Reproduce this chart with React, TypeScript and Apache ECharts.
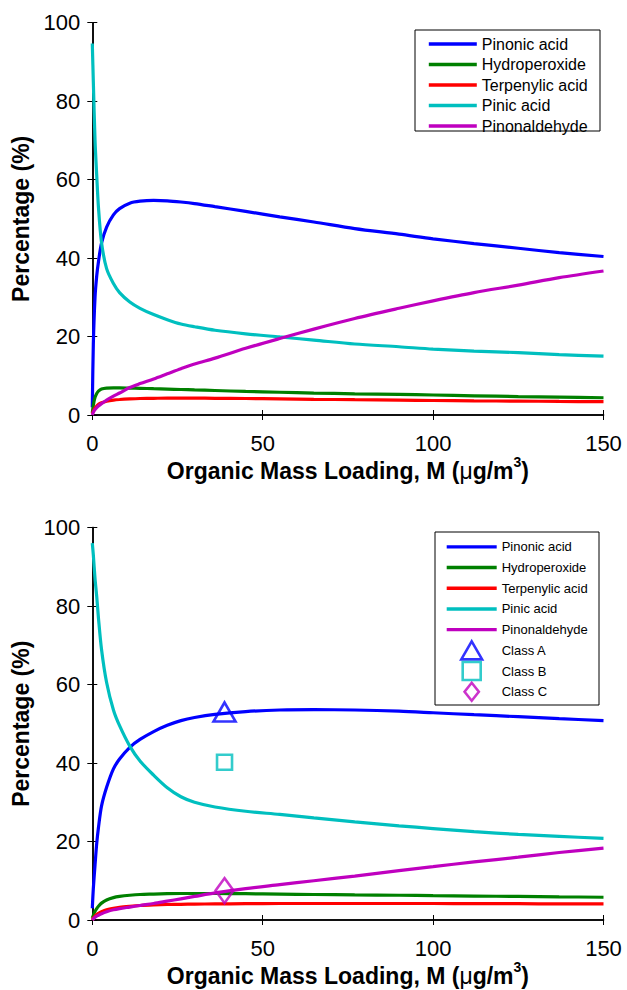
import React, { useEffect, useRef } from "react";
import * as echarts from "echarts";

// ---------- data ----------
const xPts = [0, 0.3, 0.8, 1.3, 1.8, 2.7, 4.2, 6.2, 8, 11, 14, 18, 22, 26, 30, 36, 45, 55, 65, 77, 90, 100, 112, 125, 137, 150];

// Top panel
const pinonicTop = [2, 18, 30, 35.5, 39, 43.8, 47.9, 51, 52.6, 54, 54.5, 54.7, 54.6, 54.3, 53.9, 53.1, 51.9, 50.5, 49.2, 47.5, 46.1, 44.9, 43.7, 42.5, 41.4, 40.4];
const hydroTop = [0.5, 2.5, 4.5, 5.5, 6.1, 6.6, 6.85, 6.9, 6.9, 6.85, 6.8, 6.7, 6.6, 6.5, 6.4, 6.25, 6.0, 5.8, 5.6, 5.4, 5.25, 5.1, 4.9, 4.7, 4.55, 4.4];
const terpTop = [0.3, 1, 1.8, 2.3, 2.7, 3.1, 3.5, 3.8, 3.95, 4.1, 4.2, 4.25, 4.3, 4.3, 4.3, 4.25, 4.2, 4.1, 4.0, 3.9, 3.8, 3.7, 3.6, 3.55, 3.45, 3.4];
const pinicTop = [94.7, 85, 70, 61, 53, 44, 37.3, 33.5, 31.2, 28.8, 27.2, 25.6, 24.3, 23.2, 22.5, 21.6, 20.7, 19.9, 19.1, 18.1, 17.4, 16.8, 16.3, 15.9, 15.4, 15.0];
const pinonaldTop = [0, 0.7, 1.4, 1.9, 2.3, 2.9, 3.8, 4.8, 5.6, 7.0, 8.0, 9.2, 10.5, 11.8, 13.0, 14.5, 17.0, 19.5, 21.9, 24.6, 27.2, 29.1, 31.2, 33.1, 35.0, 36.7];

// Bottom panel
const pinonicBot = [3, 8, 14, 19.5, 23.5, 29.0, 33.8, 38.5, 41.0, 44.0, 46.0, 48.0, 49.6, 50.8, 51.6, 52.4, 53.1, 53.5, 53.6, 53.5, 53.2, 52.8, 52.3, 51.8, 51.3, 50.8];
const hydroBot = [0.5, 1.2, 2.2, 2.9, 3.5, 4.3, 5.1, 5.7, 6.0, 6.3, 6.5, 6.6, 6.7, 6.75, 6.75, 6.75, 6.7, 6.6, 6.5, 6.4, 6.3, 6.2, 6.1, 6.0, 5.9, 5.8];
const terpBot = [0, 0.5, 1.0, 1.4, 1.7, 2.1, 2.6, 3.0, 3.25, 3.5, 3.7, 3.85, 3.95, 4.0, 4.05, 4.1, 4.15, 4.2, 4.2, 4.2, 4.2, 4.2, 4.15, 4.15, 4.1, 4.1];
const pinicBot = [96, 93, 87, 82.4, 77, 69, 60.5, 53.5, 49.5, 44.3, 40.5, 36.9, 33.7, 31.4, 30.0, 28.8, 27.7, 26.9, 26.0, 25.0, 24.0, 23.3, 22.5, 21.8, 21.3, 20.8];
const pinonaldBot = [0, 0.3, 0.7, 1.0, 1.2, 1.6, 2.1, 2.6, 2.9, 3.3, 3.7, 4.2, 4.8, 5.4, 6.0, 6.9, 8.0, 9.0, 10.0, 11.2, 12.6, 13.6, 14.8, 16.0, 17.2, 18.3];

// Measured classes (bottom panel)
const classA = [38.8, 53];
const classB = [38.8, 40.2];
const classC = [38.8, 7.5];

const lineNames = ["Pinonic acid", "Hydroperoxide", "Terpenylic acid", "Pinic acid", "Pinonaldehyde"];
const classNames = ["Class A", "Class B", "Class C"];
const xTicks = [0, 50, 100, 150];
const yTicks = [0, 20, 40, 60, 80, 100];

// ---------- styles ----------
const COLORS = ["#0000ff", "#008000", "#ff0000", "#00bfbf", "#bf00bf"];
const FONT = "Arial, 'Liberation Sans', Helvetica, sans-serif";

const xTitle = "{b|Organic Mass Loading, M (}{mu|\u03bc}{b|g/m}{sup|3}{b|)}";
const xTitleRich = {
  b: { fontSize: 23, fontWeight: "bold", fontFamily: FONT, color: "#000", verticalAlign: "bottom", lineHeight: 28 },
  mu: { fontSize: 23, fontWeight: "normal", fontFamily: FONT, color: "#000", verticalAlign: "bottom", lineHeight: 28 },
  sup: { fontSize: 14, fontWeight: "bold", fontFamily: FONT, color: "#000", verticalAlign: "top", lineHeight: 28 },
};

function makeAxes(gridIndex: number) {
  const axisLine = { show: true, lineStyle: { color: "#000", width: 1.5 } };
  const axisTick = { show: true, inside: false, length: 5, lineStyle: { color: "#000", width: 1 } };
  const xBase = {
    type: "value",
    gridIndex,
    min: xTicks[0],
    max: xTicks[xTicks.length - 1],
    interval: 50,
    splitLine: { show: false },
    axisLine,
    axisTick,
  };
  const yBase = {
    type: "value",
    gridIndex,
    min: yTicks[0],
    max: yTicks[yTicks.length - 1],
    interval: 20,
    splitLine: { show: false },
    axisLine,
    axisTick,
  };
  const xAxes = [
    {
      ...xBase,
      position: "bottom",
      axisLabel: { show: true, fontSize: 22, fontFamily: FONT, color: "#000", margin: 17, lineHeight: 22 },
      name: xTitle,
      nameLocation: "middle",
      nameGap: 39,
      nameTextStyle: { rich: xTitleRich },
    },
    { ...xBase, position: "top", axisLabel: { show: false } },
  ];
  const yAxes = [
    {
      ...yBase,
      position: "left",
      axisLabel: { show: true, fontSize: 22, fontFamily: FONT, color: "#000", margin: 12 },
      name: "Percentage (%)",
      nameLocation: "middle",
      nameGap: 58,
      nameTextStyle: { fontSize: 23, fontWeight: "bold", fontFamily: FONT, color: "#000" },
    },
    { ...yBase, position: "right", axisLabel: { show: false } },
  ];
  return { xAxes, yAxes };
}

function lineSeries(name: string, ys: number[], color: string, axisIdx: number) {
  return {
    type: "line",
    name,
    xAxisIndex: axisIdx,
    yAxisIndex: axisIdx,
    data: xPts.map((x, i) => [x, ys[i]]),
    showSymbol: false,
    symbol: "none",
    smooth: 0.3,
    lineStyle: { color, width: 3.2 },
    itemStyle: { color },
    z: 2,
  };
}

function markerSeries(name: string, point: number[], symbol: string, size: any, color: string) {
  return {
    type: "scatter",
    name,
    xAxisIndex: 2,
    yAxisIndex: 2,
    data: [point],
    symbol,
    symbolSize: size,
    itemStyle: { color: "rgba(255,255,255,0)", borderColor: color, borderWidth: 2.6 },
    z: 5,
  };
}

const classIcons = [
  "path://M11,0 L22,19 L0,19 Z",
  "path://M0,0 L16,0 L16,16 L0,16 Z",
  "path://M9.5,0 L19,12 L9.5,24 L0,12 Z",
];

export default function App() {
  const ref = useRef<HTMLDivElement>(null);

  useEffect(() => {
    if (!ref.current) return;
    const chart = echarts.init(ref.current, undefined, { renderer: "svg" });
    const top = makeAxes(0);
    const bot = makeAxes(1);

    const topVals = [pinonicTop, hydroTop, terpTop, pinicTop, pinonaldTop];
    const botVals = [pinonicBot, hydroBot, terpBot, pinicBot, pinonaldBot];

    const series: any[] = [];
    lineNames.forEach((n, i) => series.push(lineSeries(n, topVals[i], COLORS[i], 0)));
    lineNames.forEach((n, i) => series.push(lineSeries(n, botVals[i], COLORS[i], 2)));
    series.push(markerSeries(classNames[0], classA, "triangle", [22, 19], COLORS[0]));
    series.push(markerSeries(classNames[1], classB, "rect", 15, COLORS[3]));
    series.push(markerSeries(classNames[2], classC, "diamond", [18, 25], COLORS[4]));

    const lineLegendItems = lineNames.map((n) => ({ name: n, itemStyle: { opacity: 0 } }));
    const classLegendItems = classNames.map((n, i) => ({ name: n, icon: classIcons[i] }));

    chart.setOption({
      animation: false,
      backgroundColor: "#fff",
      grid: [
        { left: 92.3, top: 22.7, width: 511.2, height: 392.3, containLabel: false },
        { left: 92.3, top: 527.5, width: 511.2, height: 392.5, containLabel: false },
      ],
      xAxis: [...top.xAxes, ...bot.xAxes],
      yAxis: [...top.yAxes, ...bot.yAxes],
      legend: [
        {
          data: lineLegendItems,
          orient: "vertical",
          left: 427,
          top: 36,
          padding: 0,
          itemWidth: 48,
          itemHeight: 14,
          itemGap: 4.5,
          selectedMode: false,
          lineStyle: { width: 3.6 },
          textStyle: { fontSize: 16, fontFamily: FONT, color: "#000", lineHeight: 16 },
          z: 6,
        },
        {
          data: [...lineLegendItems, ...classLegendItems],
          orient: "vertical",
          left: 445,
          top: 536.5,
          padding: 0,
          itemWidth: 50,
          itemHeight: 18,
          itemGap: 0,
          selectedMode: false,
          lineStyle: { width: 3.4 },
          textStyle: { fontSize: 13, fontFamily: FONT, color: "#000", lineHeight: 20.7 },
          itemStyle: { borderWidth: 2.6 },
          z: 6,
        },
      ],
      graphic: [
        {
          type: "rect",
          shape: { x: 415, y: 30, width: 185, height: 101 },
          style: { fill: "#fff", stroke: "#000", lineWidth: 1 },
          z: 3,
        },
        {
          type: "rect",
          shape: { x: 435, y: 532, width: 164, height: 173 },
          style: { fill: "#fff", stroke: "#000", lineWidth: 1 },
          z: 3,
        },
      ],
      series,
    });
    return () => chart.dispose();
  }, []);

  return (
    <div
      ref={ref}
      style={{ position: "fixed", left: 0, top: 0, width: 627, height: 990, background: "#fff" }}
    />
  );
}
